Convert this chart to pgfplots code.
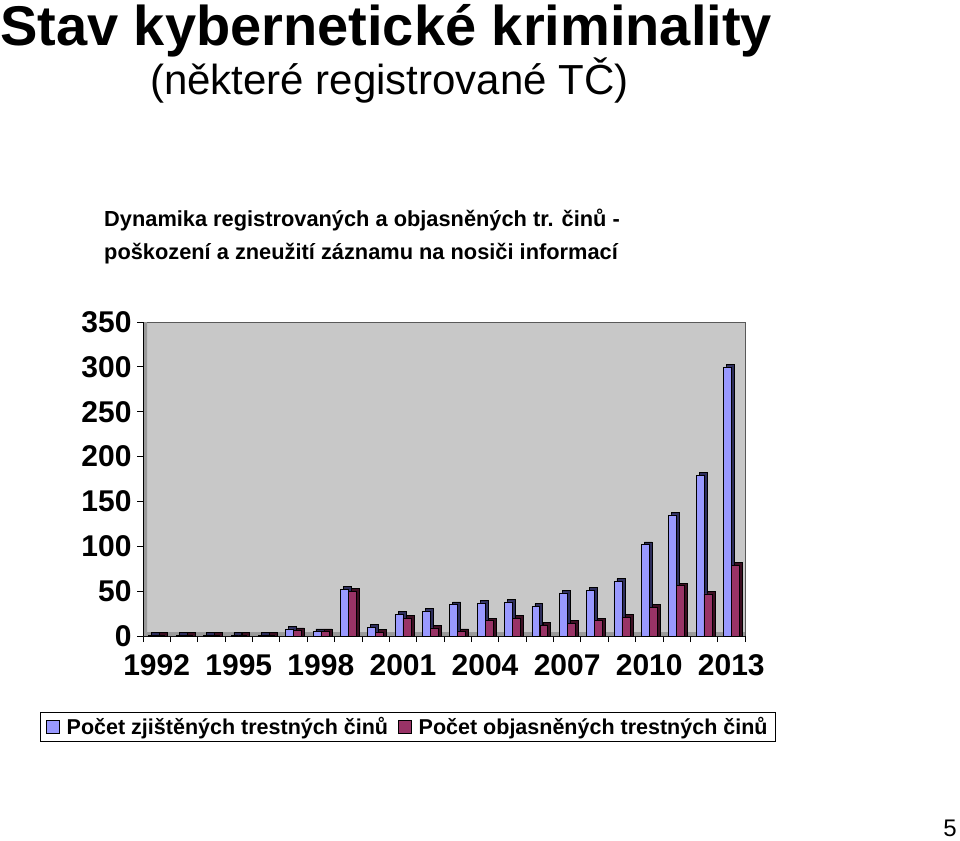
\documentclass[border=0pt]{standalone}
\usepackage{pgfplots}
\usepackage{pgfplotstable}
\pgfplotsset{compat=1.18}
\usepackage{fontspec}
\setmainfont{Liberation Sans}
\definecolor{barblue}{HTML}{9999FF}
\definecolor{barred}{HTML}{993366}
\definecolor{sideblue}{HTML}{2E2E5C}
\definecolor{sidered}{HTML}{3D0F22}
\definecolor{wall}{HTML}{C8C8C8}
\definecolor{sidewall}{HTML}{9A9A9A}
\pgfplotstableread{
k year found solved
0 1992 1 1
1 1993 1 1
2 1994 1 1
3 1995 1 1
4 1996 1 1
5 1997 8 6
6 1998 5 5
7 1999 52 50
8 2000 10 4
9 2001 24 20
10 2002 28 9
11 2003 35 5
12 2004 37 17
13 2005 38 20
14 2006 33 12
15 2007 48 14
16 2008 51 17
17 2009 61 21
18 2010 102 32
19 2011 135 56
20 2012 179 47
21 2013 300 79
}\datatable
\begin{document}
\begin{tikzpicture}[x=1pt,y=1pt]
\path[use as bounding box] (0,0) rectangle (960,-840);
\node[anchor=base west,inner sep=0pt,font=\bfseries\fontsize{56}{66}\selectfont] at (0,-46) {Stav kybernetické kriminality};
\node[anchor=base west,inner sep=0pt,font=\fontsize{42}{50}\selectfont] at (150,-95) {(některé registrované TČ)};
\node[anchor=base west,inner sep=0pt,font=\bfseries\fontsize{21.8}{26}\selectfont] at (104,-226) {Dynamika registrovaných a objasněných tr. činů -};
\node[anchor=base west,inner sep=0pt,font=\bfseries\fontsize{21.8}{26}\selectfont] at (104,-259) {poškození a zneužití záznamu na nosiči informací};
\node[anchor=base east,inner sep=0pt,font=\fontsize{24}{28}\selectfont] at (957,-836) {5};
\begin{axis}[
  at={(143pt,-636pt)}, anchor=south west,
  scale only axis, width=602pt, height=314pt,
  xmin=-0.5, xmax=21.5, ymin=0, ymax=350,
  axis background/.style={fill=wall},
  axis x line*=bottom, axis y line*=left,
  axis line style={black, line width=0.8pt},
  clip=false,
  xtick={0,3,...,21},
  xticklabels={1992,1995,1998,2001,2004,2007,2010,2013},
  major x tick style={draw=none},
  minor xtick={-0.5,0.5,...,21.5},
  minor x tick style={black, line width=0.8pt},
  minor tick length=6pt,
  ytick={0,50,...,350},
  y tick style={black, line width=0.8pt},
  major tick length=6pt,
  tick align=outside,
  xticklabel style={font=\bfseries\fontsize{30}{34}\selectfont, yshift=-9pt},
  yticklabel style={font=\bfseries\fontsize{30}{34}\selectfont, xshift=-2pt},
  /pgf/number format/assume math mode=true,
  ybar, bar width=0.29,
  legend style={at={(0.44,-0.29)}, anchor=center, legend columns=2,
    draw=black, line width=0.8pt, font=\bfseries\fontsize{21.5}{25}\selectfont,
    inner xsep=6pt, inner ysep=3pt,
    /tikz/every odd column/.append style={column sep=5pt},
    /tikz/every even column/.append style={column sep=8pt}},
  legend image code/.code={\draw[#1, draw=black, line width=0.6pt] (0pt,-6.5pt) rectangle (13pt,6.5pt);},
]
% 3D walls
\fill[sidewall] (axis cs:-0.5,0) -- (axis cs:-0.5,350) -- ([xshift=4pt]axis cs:-0.5,350) -- ([xshift=4pt,yshift=4pt]axis cs:-0.5,0) -- cycle;
\fill[sidewall] (axis cs:-0.5,0) -- (axis cs:21.5,0) -- ([yshift=4pt]axis cs:21.5,0) -- ([xshift=4pt,yshift=4pt]axis cs:-0.5,0) -- cycle;
\draw[gray!70!black, line width=0.6pt] ([xshift=4pt]axis cs:-0.5,350) -- (axis cs:21.5,350) -- ([yshift=4pt]axis cs:21.5,0) -- (axis cs:21.5,0);
\draw[black, line width=0.8pt] (axis cs:-0.5,0) -- (axis cs:-0.5,350);
\addplot[fill=sideblue, draw=black, line width=0.6pt, bar shift=-0.036, forget plot] table[x=k,y expr=\thisrow{found}+3]{\datatable};
\addplot[fill=barblue, draw=black, line width=0.6pt, bar shift=-0.146] table[x=k,y=found]{\datatable};
\addplot[fill=sidered, draw=black, line width=0.6pt, bar shift=0.256, forget plot] table[x=k,y expr=\thisrow{solved}+3]{\datatable};
\addplot[fill=barred, draw=black, line width=0.6pt, bar shift=0.146] table[x=k,y=solved]{\datatable};
\legend{Počet zjištěných trestných činů, Počet objasněných trestných činů}
\end{axis}
\end{tikzpicture}
\end{document}
